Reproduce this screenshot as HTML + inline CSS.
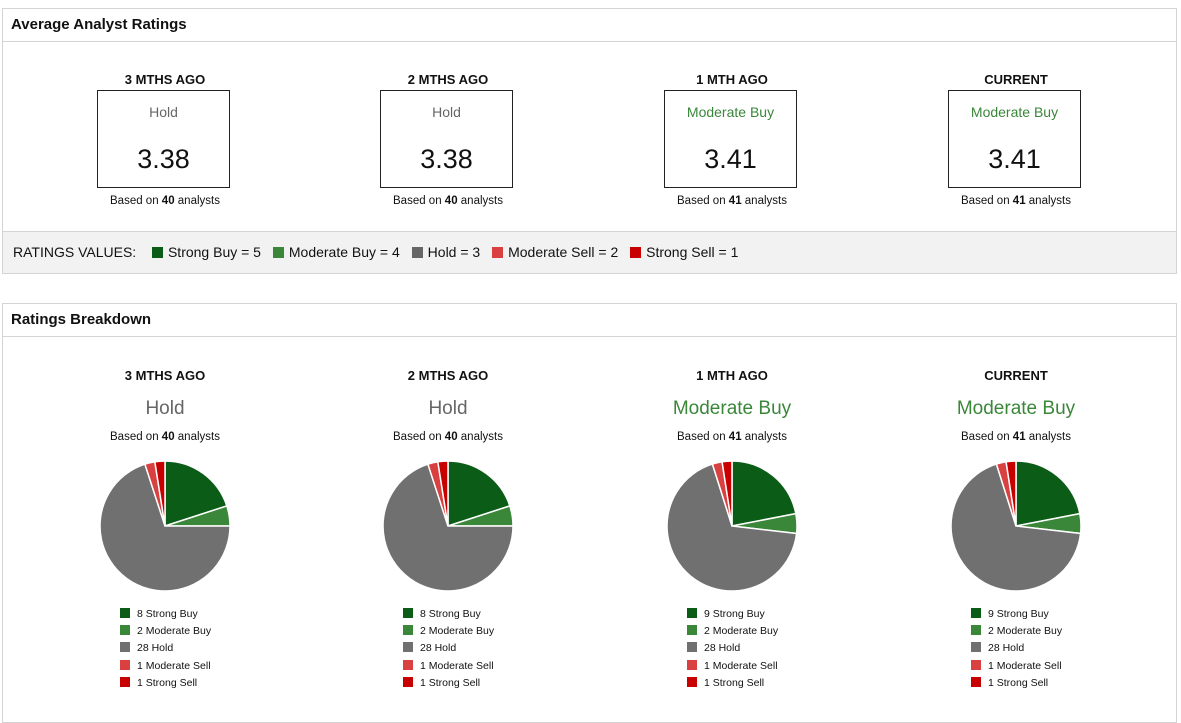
<!DOCTYPE html>
<html><head><meta charset="utf-8">
<style>
body{margin:0;width:1181px;height:711px;overflow:hidden;background:#fff;font-family:"Liberation Sans","DejaVu Sans",sans-serif;color:#111;position:relative}
.panel{position:absolute;left:2px;width:1175px;border:1px solid #d4d4d4;box-sizing:border-box;background:#fff}
.ph{height:32px;border-bottom:1px solid #d4d4d4;font-weight:bold;font-size:15px;line-height:32px;padding-left:8px}
.col{position:absolute;width:200px;text-align:center}
.t{font-weight:bold;font-size:13px}
.box{position:absolute;width:131px;height:96px;border:1px solid #222;text-align:center}
.lbl{font-size:14px;color:#666;margin-top:13px}
.num{font-size:27px;margin-top:24px}
.based{font-size:11.5px}
.legend{position:absolute;left:0;right:0;top:222px;height:41px;background:#f2f2f2;border-top:1px solid #d4d4d4;font-size:14px;line-height:41px;padding-left:10px}
.sq{display:inline-block;width:11px;height:11px;vertical-align:-1px;margin:0 5px 0 8px}
.li{font-size:10.5px;position:absolute;white-space:nowrap}
.li i{display:inline-block;width:10px;height:10px;vertical-align:-1px;margin-right:7px}
</style></head><body>
<div class="panel" style="top:8px;height:266px">
<div class="ph">Average Analyst Ratings</div>
<div class="legend">RATINGS VALUES:&nbsp;&nbsp;<span class="sq" style="background:#0b5c16"></span>Strong Buy = 5 <span class="sq" style="background:#3a873a"></span>Moderate Buy = 4 <span class="sq" style="background:#666"></span>Hold = 3 <span class="sq" style="background:#d94040"></span>Moderate Sell = 2 <span class="sq" style="background:#c80000"></span>Strong Sell = 1</div>
</div>
<div class="panel" style="top:303px;height:420px">
<div class="ph">Ratings Breakdown</div>
</div>
<div id="root"></div>
<script>
const periods=["3 MTHS AGO","2 MTHS AGO","1 MTH AGO","CURRENT"];
const ratingLabels=["Hold","Hold","Moderate Buy","Moderate Buy"];
const avgScores=["3.38","3.38","3.41","3.41"];
const analystCounts=[40,40,41,41];
const strongBuy=[8,8,9,9];
const moderateBuy=[2,2,2,2];
const hold=[28,28,28,28];
const moderateSell=[1,1,1,1];
const strongSell=[1,1,1,1];
const catNames=["Strong Buy","Moderate Buy","Hold","Moderate Sell","Strong Sell"];
const catColors=["#0b5c16","#3a873a","#707070","#d94040","#c80000"];
const centers=[165,448,732,1016];
const root=document.getElementById('root');
function add(html){const d=document.createElement('div');d.innerHTML=html;const e=d.firstChild;root.appendChild(e);return e;}
const NS="http://www.w3.org/2000/svg";
periods.forEach((p,i)=>{
  const cx=centers[i];
  const green=ratingLabels[i]!=="Hold";
  let e=add(`<div class="col t" style="left:${cx-100}px;top:72px">${p}</div>`);
  
  
  e=add(`<div class="box" style="left:${cx-68}px;top:90px"><div class="lbl" style="color:${green?'#3a873a':'#666'}">${ratingLabels[i]}</div><div class="num">${avgScores[i]}</div></div>`);
  
  
  e=add(`<div class="col based" style="left:${cx-100}px;top:195px">Based on <b>${analystCounts[i]}</b> analysts</div>`);
  
  
  e=add(`<div class="col t" style="left:${cx-100}px;top:368px">${p}</div>`);
  
  
  e=add(`<div class="col" style="left:${cx-150}px;width:300px;top:398px;font-size:19px;color:${green?'#3a873a':'#666'}">${ratingLabels[i]}</div>`);
  
  
  e=add(`<div class="col based" style="left:${cx-100}px;top:431px">Based on <b>${analystCounts[i]}</b> analysts</div>`);
  
  
  const vals=[strongBuy[i],moderateBuy[i],hold[i],moderateSell[i],strongSell[i]];
  const tot=vals.reduce((a,b)=>a+b,0);
  const svg=document.createElementNS(NS,'svg');
  svg.setAttribute('width',140);svg.setAttribute('height',140);
  svg.style.cssText=`position:absolute;left:${cx-70}px;top:456px`;
  
  
  const r=65,px=70,py=70;let a=0;
  vals.forEach((v,k)=>{
    const a0=a/tot*2*Math.PI,a1=(a+v)/tot*2*Math.PI;a+=v;
    const x0=px+r*Math.sin(a0),y0=py-r*Math.cos(a0),x1=px+r*Math.sin(a1),y1=py-r*Math.cos(a1);
    const path=document.createElementNS(NS,'path');
    path.setAttribute('d',`M${px},${py}L${x0},${y0}A${r},${r} 0 ${a1-a0>Math.PI?1:0} 1 ${x1},${y1}Z`);
    path.setAttribute('fill',catColors[k]);path.setAttribute('stroke','#fff');path.setAttribute('stroke-width','1.5');
    
    
    svg.appendChild(path);
  });
  root.appendChild(svg);
  vals.forEach((v,k)=>{
    const li=add(`<div class="li" style="left:${cx-45}px;top:${608+k*17.2}px"><i style="background:${catColors[k]}"></i>${v} ${catNames[k]}</div>`);
    
    
  });
});
</script>
</body></html>
